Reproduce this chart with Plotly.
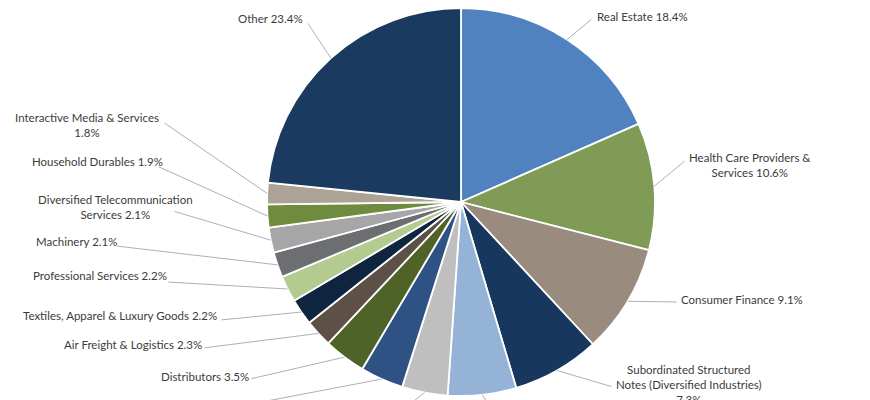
"""Industry breakdown pie with Excel-style leader-line labels (Plotly)."""

from __future__ import annotations

import math

import plotly.graph_objects as go

W, H = 870, 400
PAGE_MARGIN = 8  # default <body> margin of the html page plotly writes

# --- data -----------------------------------------------------------------
industries = [
    "Real Estate",
    "Health Care Providers & Services",
    "Consumer Finance",
    "Subordinated Structured Notes (Diversified Industries)",
    "Capital Markets",
    "Specialty Retail",
    "Construction & Engineering",
    "Distributors",
    "Air Freight & Logistics",
    "Textiles, Apparel & Luxury Goods",
    "Professional Services",
    "Machinery",
    "Diversified Telecommunication Services",
    "Household Durables",
    "Interactive Media & Services",
    "Other",
]
weights = [18.4, 10.6, 9.1, 7.3, 5.7, 3.8, 3.6, 3.5, 2.3, 2.2, 2.2, 2.1, 2.1, 1.9, 1.8, 23.4]
slice_colors = [
    "#5082C0", "#7F9B55", "#998C7F", "#17375E", "#95B3D7", "#BFBFBF",
    "#2E5283", "#4F6228", "#5C5047", "#0F243E", "#B3CA91", "#6D6E71",
    "#A6A6A6", "#6E8B3E", "#ACA296", "#1A3A5F",
]
# label text as printed next to the pie ("" = label below the visible area)
label_text = [
    "Real Estate 18.4%",
    "Health Care Providers &<br>Services 10.6%",
    "Consumer Finance 9.1%",
    "Subordinated Structured<br>Notes (Diversified Industries)<br>7.3%",
    "",
    "",
    "Construction & Engineering 3.6%",
    "Distributors 3.5%",
    "Air Freight & Logistics 2.3%",
    "Textiles, Apparel & Luxury Goods 2.2%",
    "Professional Services 2.2%",
    "Machinery 2.1%",
    "Diversified Telecommunication<br>Services 2.1%",
    "Household Durables 1.9%",
    "Interactive Media & Services<br>1.8%",
    "Other 23.4%",
]

# --- label layout, in page pixels of the 870x400 screenshot ---------------
# (x, y, xanchor) of the text block
label_pos = [
    (595, 16, "left"), (687, 165, "left"), (679, 299, "left"), (614, 384, "left"),
    (0, 0, "left"), (0, 0, "left"),
    (97, 404, "left"), (251, 376, "right"), (204, 344, "right"), (219, 315, "right"),
    (169, 275, "right"), (119, 241, "right"), (195, 207, "right"), (165, 161, "right"),
    (161, 125, "right"), (305, 19, "right"),
]
# where each leader line leaves the label
leader_tail = [
    (593, 18), (686, 160), (678, 302), (613, 387), (491, 412), (405, 412),
    (267, 401), (250, 379), (203, 348), (220, 320), (167, 282), (116, 246),
    (173, 211), (157, 166), (163, 122), (307, 22),
]

PIE_CX, PIE_CY, PIE_R = 461, 202, 194
FONT = "Lato, 'Open Sans', sans-serif"
TEXT_COLOR = "#3B3B3B"
LEADER_COLOR = "#A6A6A6"


def to_paper(px: float, py: float) -> tuple[float, float]:
    '''Page pixel -> paper fraction of the figure (which sits at the page margin).'''
    return (px - PAGE_MARGIN) / W, 1 - (py - PAGE_MARGIN) / H


def slice_edge_points(values: list[float]) -> list[tuple[float, float]]:
    '''Page pixel point on the rim at the middle angle of each slice (clockwise from 12).'''
    total = sum(values)
    pts = []
    cum = 0.0
    for v in values:
        mid = (cum + v / 2) / total * 2 * math.pi
        pts.append((PIE_CX + PIE_R * math.sin(mid), PIE_CY - PIE_R * math.cos(mid)))
        cum += v
    return pts


def main() -> None:
    x0, y1 = to_paper(PIE_CX - PIE_R, PIE_CY - PIE_R)
    x1, y0 = to_paper(PIE_CX + PIE_R, PIE_CY + PIE_R)
    fig = go.Figure(go.Pie(
        labels=industries,
        values=weights,
        sort=False,
        direction="clockwise",
        rotation=0,
        marker=dict(colors=slice_colors, line=dict(color="white", width=1.8)),
        textinfo="none",
        hoverinfo="label+percent",
        showlegend=False,
        domain=dict(x=[x0, x1], y=[y0, min(y1, 1)]),
    ))

    annotations = []
    heads = slice_edge_points(weights)
    for (hx, hy), (tx, ty) in zip(heads, leader_tail):
        x, y = to_paper(hx, hy)
        annotations.append(dict(
            x=x, y=y, xref="paper", yref="paper",
            ax=tx - hx, ay=ty - hy, text="",
            showarrow=True, arrowhead=0, arrowwidth=0.9,
            arrowcolor=LEADER_COLOR, standoff=0, startstandoff=0,
        ))
    for txt, (lx, ly, anchor) in zip(label_text, label_pos):
        if not txt:
            continue
        x, y = to_paper(lx, ly)
        annotations.append(dict(
            x=x, y=y, xref="paper", yref="paper",
            text=txt, showarrow=False, xanchor=anchor, yanchor="middle",
            align="center", font=dict(family=FONT, size=11.5, color=TEXT_COLOR),
        ))

    fig.update_layout(
        width=W, height=H,
        margin=dict(l=0, r=0, t=0, b=0),
        paper_bgcolor="white",
        plot_bgcolor="white",
        annotations=annotations,
    )
    fig.write_html("out.html")


if __name__ == "__main__":
    main()
